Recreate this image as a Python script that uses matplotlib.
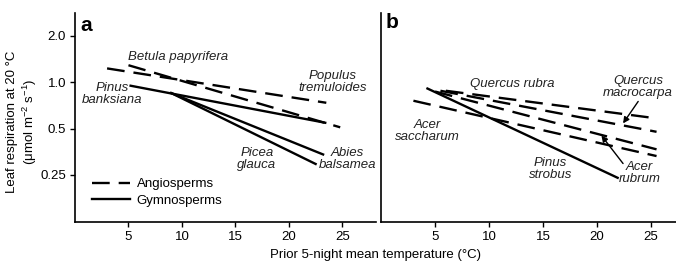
import matplotlib
matplotlib.use("Agg")
import matplotlib.pyplot as plt
from matplotlib.lines import Line2D

plt.rcParams['font.family'] = ['Liberation Sans', 'DejaVu Sans']
plt.rcParams['mathtext.fontset'] = 'custom'
plt.rcParams['mathtext.rm'] = 'Liberation Sans'
plt.rcParams['mathtext.it'] = 'Liberation Sans:italic'
plt.rcParams['axes.unicode_minus'] = True

# ---------------- data ----------------
# Panel a: [x_start, x_end], [resp_start, resp_end]
a_betula_x = [5.0, 24.8]
a_betula_y = [1.29, 0.509]
a_populus_x = [3.0, 23.5]
a_populus_y = [1.23, 0.735]
a_banksiana_x = [5.2, 23.4]
a_banksiana_y = [0.949, 0.545]
a_abies_x = [9.0, 23.2]
a_abies_y = [0.85, 0.339]
a_picea_x = [9.0, 22.5]
a_picea_y = [0.85, 0.294]

# Panel b
b_qrubra_x = [6.0, 25.5]
b_qrubra_y = [0.88, 0.582]
b_qmacro_x = [5.5, 25.5]
b_qmacro_y = [0.88, 0.476]
b_arubrum_x = [5.0, 25.5]
b_arubrum_y = [0.87, 0.366]
b_asacch_x = [3.0, 25.5]
b_asacch_y = [0.758, 0.331]
b_strobus_x = [4.3, 21.9]
b_strobus_y = [0.91, 0.239]

y_ticks = [0.25, 0.5, 1.0, 2.0]
y_ticklabels = ['0.25', '0.5', '1.0', '2.0']
x_ticks = [5, 10, 15, 20, 25]

W, H = 676, 265
fig = plt.figure(figsize=(W / 100, H / 100), dpi=100)

def px_axes(l, r, t, b):
    return fig.add_axes([l / W, 1 - b / H, (r - l) / W, (b - t) / H])

axA = px_axes(75, 375.5, 13, 222)
axB = px_axes(381, 676, 13, 222)

dash = (0, (7.5, 3.8))
lw = 1.7
fs = 9.5

for ax, xmax in ((axA, 28.1), (axB, 27.3)):
    ax.set_yscale('log')
    ax.set_xlim(0, xmax)
    ax.set_ylim(0.1233, 2.82)
    ax.spines['top'].set_visible(False)
    ax.spines['right'].set_visible(False)
    for s in ('left', 'bottom'):
        ax.spines[s].set_linewidth(1.2)
    ax.set_xticks(x_ticks)
    ax.tick_params(axis='both', direction='out', length=3.5, width=1.0,
                   labelsize=fs, pad=3)
    ax.yaxis.set_minor_locator(matplotlib.ticker.NullLocator())
    ax.set_facecolor('none')

axA.set_yticks(y_ticks)
axA.set_yticklabels(y_ticklabels)
axB.set_yticks([])
axB.tick_params(axis='y', length=0)

# Panel a lines
axA.plot(a_betula_x, a_betula_y, color='k', lw=lw, linestyle=dash)
axA.plot(a_populus_x, a_populus_y, color='k', lw=lw, linestyle=dash)
axA.plot(a_banksiana_x, a_banksiana_y, color='k', lw=lw)
axA.plot(a_abies_x, a_abies_y, color='k', lw=lw)
axA.plot(a_picea_x, a_picea_y, color='k', lw=lw)

# Panel b lines
axB.plot(b_qrubra_x, b_qrubra_y, color='k', lw=lw, linestyle=dash)
axB.plot(b_qmacro_x, b_qmacro_y, color='k', lw=lw, linestyle=dash)
axB.plot(b_arubrum_x, b_arubrum_y, color='k', lw=lw, linestyle=dash)
axB.plot(b_asacch_x, b_asacch_y, color='k', lw=lw, linestyle=dash)
axB.plot(b_strobus_x, b_strobus_y, color='k', lw=lw)

it = dict(fontsize=fs, style='italic', color='#222222')

# Panel a labels
axA.text(5.0, 1.46, 'Betula papyrifera', ha='left', va='center', **it)
axA.text(24.1, 1.0, 'Populus\ntremuloides', ha='center', va='center', linespacing=1.0, **it)
axA.text(3.5, 0.84, 'Pinus\nbanksiana', ha='center', va='center', linespacing=1.0, **it)
axA.text(17.0, 0.317, 'Picea\nglauca', ha='center', va='center', linespacing=1.0, **it)
axA.text(25.5, 0.317, 'Abies\nbalsamea', ha='center', va='center', linespacing=1.0, **it)

# Panel b labels
axB.text(12.1, 0.98, 'Quercus rubra', ha='center', va='center', **it)
axB.text(23.8, 0.93, 'Quercus\nmacrocarpa', ha='center', va='center', linespacing=1.0, **it)
axB.text(4.26, 0.48, 'Acer\nsaccharum', ha='center', va='center', linespacing=1.0, **it)
axB.text(15.7, 0.272, 'Pinus\nstrobus', ha='center', va='center', linespacing=1.0, **it)
axB.text(23.9, 0.255, 'Acer\nrubrum', ha='center', va='center', linespacing=1.0, **it)

arr = dict(arrowstyle='-|>', color='k', lw=1.0, mutation_scale=9, shrinkA=0, shrinkB=0)
axB.annotate('', xy=(22.4, 0.54), xytext=(23.8, 0.75), arrowprops=arr)
axB.annotate('', xy=(20.4, 0.45), xytext=(22.4, 0.296), arrowprops=arr)

# Panel letters
axA.text(0.017, 0.985, 'a', transform=axA.transAxes, ha='left', va='top',
         fontsize=15, fontweight='bold')
axB.text(0.017, 1.0, 'b', transform=axB.transAxes, ha='left', va='top',
         fontsize=15, fontweight='bold')

# Legend
handles = [Line2D([], [], color='k', lw=lw, linestyle=dash),
           Line2D([], [], color='k', lw=lw)]
leg = axA.legend(handles, ['Angiosperms', 'Gymnosperms'], loc='lower left',
                 bbox_to_anchor=((92 - 75) / 300.5, (222 - 207) / 209),
                 frameon=False, fontsize=fs, handlelength=2.9, handletextpad=0.5,
                 labelspacing=0.35, borderpad=0, borderaxespad=0)

# Axis labels
fig.text(12 / W, 1 - 122 / H, 'Leaf respiration at 20 °C', rotation=90,
         ha='center', va='center', fontsize=fs)
fig.text(30 / W, 1 - 122 / H, r'(μmol m$^{-2}$ s$^{-1}$)', rotation=90,
         ha='center', va='center', fontsize=fs)
fig.text(376 / W, 1 - 255 / H, 'Prior 5-night mean temperature (°C)',
         ha='center', va='center', fontsize=fs)

fig.savefig('out.png', dpi=100)
